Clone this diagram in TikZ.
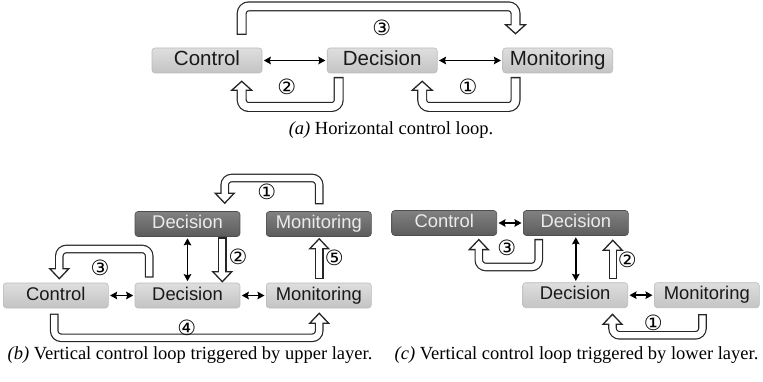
\documentclass[tikz,border=0pt]{standalone}
\usepackage{fontspec}
\setmainfont{Liberation Serif}
\setsansfont{Liberation Sans}
\newfontfamily\symfont{DejaVu Sans}
\usetikzlibrary{arrows.meta,calc}
\definecolor{lighttop}{HTML}{DEDEDE}
\definecolor{lightbot}{HTML}{C4C4C4}
\definecolor{lightedge}{HTML}{BBBBBB}
\definecolor{darktop}{HTML}{818181}
\definecolor{darkbot}{HTML}{5C5C5C}
\definecolor{darkedge}{HTML}{4E4E4E}
\definecolor{bandline}{HTML}{262626}
% geometry of the hollow (outlined) arrows
\def\bandw{10}\def\bandcw{7.6}\def\headw{10}\def\headl{9}
\tikzset{
  box/.style={rounded corners=3pt, minimum height=25pt, minimum width=105pt, inner sep=0pt,
    font=\sffamily\fontsize{18.4}{20}\selectfont, text height=13pt, text depth=3.8pt, line width=0.6pt},
  wide/.style={minimum width=110pt, font=\sffamily\fontsize{20.5}{22}\selectfont, text height=14.6pt, text depth=4.2pt},
  lightbox/.style={box, draw=lightedge, top color=lighttop, bottom color=lightbot, text=black!90},
  darkbox/.style={box, draw=darkedge, top color=darktop, bottom color=darkbot, text=white!92!black},
  link/.style={line width=1.9pt, {Stealth[length=7pt,width=7.5pt,inset=1pt]}-{Stealth[length=7pt,width=7.5pt,inset=1pt]},
    shorten <=1.5pt, shorten >=1.5pt},
  bandedge/.style={line width=\bandw pt, draw=bandline, rounded corners=7pt, shorten <=-1.3pt},
  bandcore/.style={line width=\bandcw pt, draw=white, rounded corners=7pt, shorten >=-1.8pt},
  headshape/.style={fill=white, draw=bandline, line width=1.3pt, line join=miter},
  num/.style={font=\symfont\fontsize{21}{21}\selectfont, inner sep=0pt},
  caption/.style={font=\fontsize{18.5}{20}\selectfont, inner sep=0pt, anchor=base},
}
% #1 path from start to the base of the head, #2 head base, #3 heading angle
\newcommand\hollowarrow[3]{%
  \draw[bandedge] #1;
  \begin{scope}[shift={(#2)}, rotate=#3]
    \draw[headshape] (0,-\headw pt) -- (\headl pt,0) -- (0,\headw pt) -- cycle;
  \end{scope}
  \draw[bandcore] #1;
}
\begin{document}
\begin{tikzpicture}[x=1pt,y=1pt]
\useasboundingbox (0,0) rectangle (763,-382);

% ---------- (a) horizontal loop ----------
\node[lightbox, wide] (ctlA) at (207,-60.5) {Control};
\node[lightbox, wide] (decA) at (382.2,-60.5) {Decision};
\node[lightbox, wide] (monA) at (557.7,-60.5) {Monitoring};
\draw[link] (ctlA.east) -- (decA.west);
\draw[link] (decA.east) -- (monA.west);

\coordinate (a3s) at ($(ctlA.north)+(34.7,14)$);
\coordinate (a3b) at ($(monA.north)+(-42.2,23)$);
\hollowarrow{(a3s) -- ++(0,27.3) -| (a3b)}{a3b}{-90}
\coordinate (a2s) at ($(decA.south)+(-43.5,-5)$);
\coordinate (a2b) at ($(ctlA.south)+(34.7,-17)$);
\hollowarrow{(a2s) -- ++(0,-28.7) -| (a2b)}{a2b}{90}
\coordinate (a1s) at ($(monA.south)+(-42.2,-5)$);
\coordinate (a1b) at ($(decA.south)+(40,-17)$);
\hollowarrow{(a1s) -- ++(0,-28.7) -| (a1b)}{a1b}{90}

\node[num] (na3) at (381.7,-28) {③};
\node[num] (na2) at (286.7,-87) {②};
\node[num] (na1) at (468,-87) {①};
\node[caption] (capA) at (391,-135) {\textit{(a)} Horizontal control loop.};

% ---------- (b) loop triggered by the upper layer ----------
\def\bandw{8.6}\def\bandcw{6.2}\def\headw{9.5}\def\headl{10}
\node[darkbox] (decT) at (187.5,-224) {Decision};
\node[darkbox] (monT) at (318.8,-224) {Monitoring};
\node[lightbox] (ctlB) at (55.8,-295.5) {Control};
\node[lightbox] (decB) at (187.5,-295.5) {Decision};
\node[lightbox] (monB) at (318.8,-295.5) {Monitoring};
\draw[link] (ctlB.east) -- (decB.west);
\draw[link] (decB.east) -- (monB.west);
\draw[link] (decT.south) -- (decB.north);

\coordinate (b2s) at ($(decT.south)+(34.8,-2)$);
\coordinate (b2b) at ($(decB.north)+(34.8,11)$);
\hollowarrow{(b2s) -- (b2b)}{b2b}{-90}
\coordinate (b5s) at ($(monB.north)+(0.4,5)$);
\coordinate (b5b) at ($(monT.south)+(0.4,-12)$);
\hollowarrow{(b5s) -- (b5b)}{b5b}{90}
\coordinate (b1s) at ($(monT.north)+(0.4,8.2)$);
\coordinate (b1b) at ($(decT.north)+(37.2,18)$);
\hollowarrow{(b1s) -- ++(0,25) -| (b1b)}{b1b}{-90}
\coordinate (b3s) at ($(decB.north)+(-38.3,6.3)$);
\coordinate (b3b) at ($(ctlB.north)+(3.5,14)$);
\hollowarrow{(b3s) -- ++(0,27.4) -| (b3b)}{b3b}{-90}
\coordinate (b4s) at ($(ctlB.south)+(-1.6,-6.5)$);
\coordinate (b4b) at ($(monB.south)+(0.4,-15)$);
\hollowarrow{(b4s) -- ++(0,-23) -| (b4b)}{b4b}{90}

\node[num] (nb1) at (266.7,-191.7) {①};
\node[num] (nb2) at (238,-257) {②};
\node[num] (nb3) at (100,-267.7) {③};
\node[num] (nb4) at (186.7,-328) {④};
\node[num] (nb5) at (334.3,-258) {⑤};
\node[caption] (capB) at (190,-359) {\textit{(b)} Vertical control loop triggered by upper layer.};

% ---------- (c) loop triggered by the lower layer ----------
\node[darkbox] (ctlC) at (444.2,-223) {Control};
\node[darkbox] (decC) at (575.8,-223) {Decision};
\node[lightbox] (decL) at (575.2,-295.2) {Decision};
\node[lightbox] (monC) at (706.8,-295.2) {Monitoring};
\draw[link] (ctlC.east) -- (decC.west);
\draw[link] (decL.east) -- (monC.west);
\draw[link] (decC.south) -- (decC.south |- decL.north);

\coordinate (c2s) at ($(decL.north)+(37.6,4.4)$);
\coordinate (c2b) at ($(decC.south)+(37,-14.5)$);
\hollowarrow{(c2s) -- (c2b)}{c2b}{90}
\coordinate (c3s) at ($(decC.south)+(-37.1,-4.5)$);
\coordinate (c3b) at ($(ctlC.south)+(34.6,-13.8)$);
\hollowarrow{(c3s) -- ++(0,-26.7) -| (c3b)}{c3b}{90}
\coordinate (c1s) at ($(monC.south)+(-4.3,-7.3)$);
\coordinate (c1b) at ($(decL.south)+(37.3,-16.3)$);
\hollowarrow{(c1s) -- ++(0,-20) -| (c1b)}{c1b}{90}

\node[num] (nc2) at (627.3,-260) {②};
\node[num] (nc3) at (506.7,-248.3) {③};
\node[num] (nc1) at (653.3,-323.3) {①};
\node[caption] (capC) at (576.5,-359) {\textit{(c)} Vertical control loop triggered by lower layer.};
\end{tikzpicture}
\end{document}
